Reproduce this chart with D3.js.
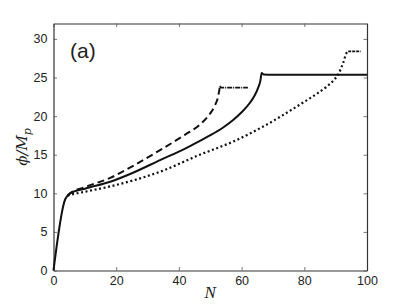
<!DOCTYPE html>
<html>
<head>
<meta charset="utf-8">
<script src="https://cdn.jsdelivr.net/npm/d3@7"></script>
<style>
  body { margin: 0; background: #fff; }
  svg text { font-family: "Liberation Sans", Arial, sans-serif; fill: #222; }
</style>
</head>
<body>
<div class="container"></div>
<script>
// values
const solidN   = [0, 3.7, 4.5, 5.3, 10, 18.1, 25, 34, 42, 46.7, 49.9, 54, 57.3, 60, 62.6, 64.2, 65.3, 66, 66.4, 67, 70, 100]
const solidPhi = [0, 9.2, 9.7, 10.0, 10.6, 11.5, 12.6, 14.3, 15.8, 16.8, 17.5, 18.5, 19.5, 20.5, 21.7, 22.7, 23.7, 24.6, 25.6, 25.4, 25.35, 25.35]

const dashN   = [4.5, 5.3, 10, 18.1, 26, 34, 42, 46.7, 49.9, 51.5, 52.5, 53.1]
const dashPhi = [9.7, 10.0, 10.8, 12.0, 13.7, 15.6, 17.6, 18.9, 20.3, 21.4, 22.5, 23.9]
// plateau after the dashed run ends
const dashFlatN   = [53.1, 53.5, 62]
const dashFlatPhi = [23.9, 23.7, 23.7]

const dotN   = [4.5, 5.3, 10, 18.1, 34, 46.7, 57.3, 68, 78.6, 84, 87.1, 89.5, 90.8, 92.4, 93.5, 94]
const dotPhi = [9.7, 9.8, 10.2, 10.9, 12.8, 15.0, 16.7, 18.9, 21.5, 22.9, 23.8, 24.7, 25.4, 26.9, 28.2, 28.4]
const dotFlatN   = [94, 98]
const dotFlatPhi = [28.4, 28.4]

const xTicks = [0, 20, 40, 60, 80, 100]
const yTicks = [0, 5, 10, 15, 20, 25, 30]

const w = 407
const h = 305
const m = {left: 53.5, right: 40, top: 23.5, bottom: 34.5}

const svg = d3.select('.container')
              .append('svg')
              .attr('width', w)
              .attr('height', h)

const x = d3.scaleLinear().domain([0, 100]).range([m.left, w - m.right])
const y = d3.scaleLinear().domain([0, 32]).range([h - m.bottom, m.top])

// axes, ticks pointing inwards on every side (matlab box)
const tl = 3.5
svg.append('g')
   .attr('transform', 'translate(0,' + (h - m.bottom) + ')')
   .call(d3.axisBottom(x).tickValues(xTicks).tickSizeInner(-tl).tickSizeOuter(0).tickPadding(6))
svg.append('g')
   .attr('transform', 'translate(0,' + m.top + ')')
   .call(d3.axisTop(x).tickValues(xTicks).tickSizeInner(-tl).tickSizeOuter(0).tickFormat(''))
svg.append('g')
   .attr('transform', 'translate(' + m.left + ',0)')
   .call(d3.axisLeft(y).tickValues(yTicks).tickSizeInner(-tl).tickSizeOuter(0).tickPadding(6))
svg.append('g')
   .attr('transform', 'translate(' + (w - m.right) + ',0)')
   .call(d3.axisRight(y).tickValues(yTicks).tickSizeInner(-tl).tickSizeOuter(0).tickFormat(''))

svg.selectAll('.domain').attr('stroke', '#333').attr('stroke-width', 1.2)
svg.selectAll('.tick line').attr('stroke', '#555').attr('stroke-width', 0.8)
svg.selectAll('.tick text').attr('font-size', 12.5).attr('fill', '#222')

// curves
const line = d3.line()
               .x((d) => x(d[0]))
               .y((d) => y(d[1]))
               .curve(d3.curveMonotoneX)

function draw(ns, ps, dash, width) {
  svg.append('path')
     .datum(ns.map((n, i) => [n, ps[i]]))
     .attr('d', line)
     .attr('fill', 'none')
     .attr('stroke', '#111')
     .attr('stroke-width', width)
     .attr('stroke-dasharray', dash)
}
draw(dotN, dotPhi, '2,2.6', 2.2)
draw(dotFlatN, dotFlatPhi, '3,1', 1.8)
draw(dashN, dashPhi, '7,4', 2)
draw(dashFlatN, dashFlatPhi, '5,1,1,1', 1.8)
draw(solidN, solidPhi, null, 2)

// labels
svg.append('text')
   .attr('x', 70).attr('y', 58)
   .attr('font-size', 21)
   .text('(a)')

svg.append('text')
   .attr('x', (m.left + w - m.right) / 2)
   .attr('y', 298)
   .attr('text-anchor', 'middle')
   .style('font-family', '"Liberation Serif", serif')
   .attr('font-style', 'italic')
   .attr('font-size', 17)
   .text('N')

const yl = svg.append('text')
   .attr('transform', 'translate(27,' + ((m.top + h - m.bottom) / 2) + ') rotate(-90)')
   .attr('text-anchor', 'middle')
   .style('font-family', '"DejaVu Serif", "Liberation Serif", serif')
   .attr('font-style', 'italic')
   .attr('font-size', 15)
yl.append('tspan').text('ϕ/M')
yl.append('tspan').attr('font-size', 11).attr('dy', 4).text('p')
</script>
</body>
</html>
